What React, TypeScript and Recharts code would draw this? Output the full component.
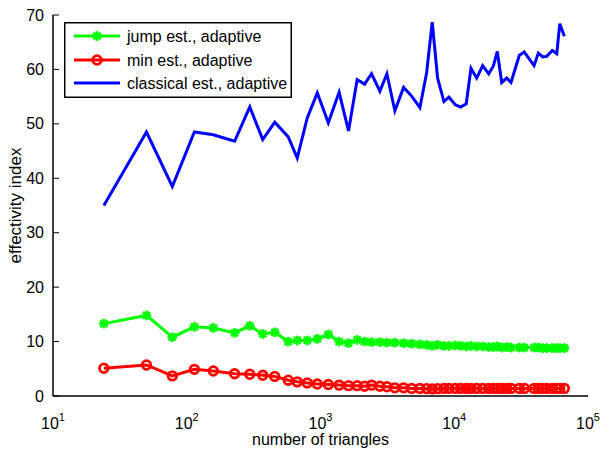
import React from 'react';
import { LineChart, Line, XAxis, YAxis, Legend } from 'recharts';

const triangles = [24, 50, 78, 114, 158, 228, 296, 370, 455, 574, 670, 796, 946, 1144, 1378, 1620, 1879, 2135, 2408, 2779, 3136, 3598, 4182, 4800, 5538, 6216, 6844, 7510, 8373, 9127, 10174, 11167, 12296, 13335, 14716, 16318, 18093, 19583, 20986, 22637, 24674, 26572, 30663, 33420, 39502, 42534, 45873, 49138, 54126, 58408, 61504, 66573];

const jumpEst = [13.3, 14.8, 10.8, 12.7, 12.5, 11.6, 12.9, 11.4, 11.7, 10.0, 10.2, 10.2, 10.5, 11.3, 10.0, 9.7, 10.3, 10.0, 9.9, 9.9, 9.8, 9.8, 9.7, 9.6, 9.5, 9.4, 9.2, 9.4, 9.2, 9.2, 9.3, 9.2, 9.1, 9.2, 9.1, 9.1, 9.0, 9.0, 9.1, 8.9, 9.0, 8.9, 8.9, 8.9, 8.9, 8.9, 8.8, 8.8, 8.8, 8.8, 8.8, 8.8];

const minEst = [5.1, 5.7, 3.7, 4.9, 4.6, 4.1, 4.0, 3.8, 3.6, 2.9, 2.6, 2.4, 2.2, 2.1, 2.0, 1.9, 1.9, 1.8, 2.0, 1.8, 1.7, 1.5, 1.5, 1.4, 1.4, 1.35, 1.3, 1.35, 1.4, 1.4, 1.4, 1.4, 1.4, 1.4, 1.4, 1.4, 1.4, 1.4, 1.4, 1.4, 1.4, 1.4, 1.4, 1.4, 1.4, 1.4, 1.4, 1.4, 1.4, 1.4, 1.4, 1.4];

const classicalEst = [35.0, 48.5, 38.5, 48.5, 48.0, 46.8, 53.1, 47.1, 50.3, 47.6, 43.7, 51.1, 55.7, 50.2, 55.8, 48.7, 58.1, 57.3, 59.2, 56.0, 59.2, 52.4, 56.7, 55.1, 53.0, 59.4, 68.7, 58.4, 54.1, 54.9, 53.5, 53.1, 53.7, 60.2, 58.4, 60.7, 59.2, 60.6, 63.3, 57.6, 58.4, 57.6, 62.6, 63.2, 60.7, 63.0, 62.3, 62.4, 63.5, 62.9, 68.4, 66.1];

const seriesNames = ['jump est., adaptive', 'min est., adaptive', 'classical est., adaptive'];
const seriesColors = ['#00ff00', '#ff0000', '#0000ff'];

const yTicks = [0, 10, 20, 30, 40, 50, 60, 70];
const xMajorTicks = [10, 100, 1000, 10000, 100000];
const xMinorTicks = [10, 100, 1000, 10000].flatMap((d) => [2, 3, 4, 5, 6, 7, 8, 9].map((k) => k * d));
const xAllTicks = [...xMajorTicks, ...xMinorTicks].sort((a, b) => a - b);

const xLabel = 'number of triangles';
const yLabel = 'effectivity index';

const data = triangles.map((n, i) => ({
  n,
  jump: jumpEst[i],
  min: minEst[i],
  classical: classicalEst[i],
}));

const W = 602;
const H = 450;
const M_TOP = 15;
const M_RIGHT = 14;
const Y_W = 53;
const X_H = 54;
const PLOT_H = H - M_TOP - X_H;
const FONT = '"Liberation Sans", Arial, Helvetica, sans-serif';

const isMajor = (v: number) => Math.abs(Math.log10(v) - Math.round(Math.log10(v))) < 1e-9;

const BottomTick = (props: any) => {
  const { x, y, payload } = props;
  const exp = Math.round(Math.log10(payload.value));
  return (
    <text x={x} y={y + 33} textAnchor="middle" fontSize={16} fontFamily={FONT} fill="#000">
      10
      <tspan dy={-8} fontSize={11}>{exp}</tspan>
    </text>
  );
};

const TopTick = (props: any) => {
  const { x, y, payload } = props;
  const len = isMajor(payload.value) ? 6 : 4;
  return (
    <g stroke="#000" strokeWidth={1}>
      <line x1={x} y1={y} x2={x} y2={y + len} />
      <line x1={x} y1={y + PLOT_H} x2={x} y2={y + PLOT_H - len} />
    </g>
  );
};

const LeftTick = (props: any) => {
  const { x, y, payload } = props;
  return (
    <g>
      <line x1={x} y1={y} x2={x + 6} y2={y} stroke="#000" strokeWidth={1} />
      <text x={x - 9} y={y + 5.5} textAnchor="end" fontSize={16} fontFamily={FONT} fill="#000">
        {payload.value}
      </text>
    </g>
  );
};

const RightTick = (props: any) => {
  const { x, y } = props;
  return <line x1={x} y1={y} x2={x - 6} y2={y} stroke="#000" strokeWidth={1} />;
};

const StarDot = (props: any) => {
  const { cx, cy, index } = props;
  if (cx == null || cy == null) return <g key={`s-${index}`} />;
  const s = 4.8;
  const d = 3.5;
  return (
    <g key={`s-${index}`} stroke="#00ff00" strokeWidth={2.5}>
      <line x1={cx - s} y1={cy} x2={cx + s} y2={cy} />
      <line x1={cx} y1={cy - s} x2={cx} y2={cy + s} />
      <line x1={cx - d} y1={cy - d} x2={cx + d} y2={cy + d} />
      <line x1={cx - d} y1={cy + d} x2={cx + d} y2={cy - d} />
    </g>
  );
};

const CircleDot = (props: any) => {
  const { cx, cy, index } = props;
  if (cx == null || cy == null) return <g key={`c-${index}`} />;
  return <circle key={`c-${index}`} cx={cx} cy={cy} r={4.3} fill="none" stroke="#ff0000" strokeWidth={2.8} />;
};

const LegendBox = () => {
  const rows = [14, 38, 61];
  return (
    <svg width={228} height={76} style={{ display: 'block' }}>
      <rect x={0.75} y={0.75} width={226.5} height={74.5} fill="#fff" stroke="#000" strokeWidth={1.5} />
      {seriesNames.map((name, i) => {
        const cy = rows[i];
        return (
          <g key={name}>
            <line x1={10} y1={cy} x2={56} y2={cy} stroke={seriesColors[i]} strokeWidth={3} />
            {i === 0 && <StarDot cx={33} cy={cy} index={'leg'} />}
            {i === 1 && <CircleDot cx={33} cy={cy} index={'leg'} />}
            <text x={63} y={cy + 5.5} fontSize={16} fontFamily={FONT} fill="#000">
              {name}
            </text>
          </g>
        );
      })}
    </svg>
  );
};

const YLabel = (props: any) => {
  const { viewBox } = props;
  const cx = viewBox.x + 21;
  const cy = viewBox.y + viewBox.height / 2;
  return (
    <text
      x={cx}
      y={cy}
      transform={`rotate(-90, ${cx}, ${cy})`}
      textAnchor="middle"
      fontSize={17}
      fontFamily={FONT}
      fill="#000"
    >
      {yLabel}
    </text>
  );
};

const XLabel = (props: any) => {
  const { viewBox } = props;
  const cx = viewBox.x + viewBox.width / 2;
  const cy = viewBox.y + 49;
  return (
    <text x={cx} y={cy} textAnchor="middle" fontSize={16} fontFamily={FONT} fill="#000">
      {xLabel}
    </text>
  );
};

export default function App() {
  return (
    <div style={{ position: 'absolute', left: 0, top: 0, width: W, height: H, background: '#fff' }}>
      <LineChart width={W} height={H} data={data} margin={{ top: M_TOP, right: M_RIGHT, left: 0, bottom: 0 }}>
        <XAxis
          xAxisId="main"
          dataKey="n"
          type="number"
          scale="log"
          domain={[10, 100000]}
          allowDataOverflow
          ticks={xMajorTicks}
          interval={0}
          height={X_H}
          tickSize={0}
          tickMargin={0}
          tickLine={false}
          axisLine={{ stroke: '#000', strokeWidth: 1.5 }}
          tick={<BottomTick />}
          label={<XLabel />}
        />
        <XAxis
          xAxisId="top"
          orientation="top"
          type="number"
          scale="log"
          domain={[10, 100000]}
          allowDataOverflow
          ticks={xAllTicks}
          interval={0}
          height={0}
          tickSize={0}
          tickMargin={0}
          tickLine={false}
          axisLine={{ stroke: '#000', strokeWidth: 1.5 }}
          tick={<TopTick />}
        />
        <YAxis
          yAxisId="left"
          type="number"
          domain={[0, 70]}
          ticks={yTicks}
          interval={0}
          width={Y_W}
          tickSize={0}
          tickMargin={0}
          tickLine={false}
          axisLine={{ stroke: '#000', strokeWidth: 1.5 }}
          tick={<LeftTick />}
          label={<YLabel />}
        />
        <YAxis
          yAxisId="right"
          orientation="right"
          type="number"
          domain={[0, 70]}
          ticks={yTicks}
          interval={0}
          width={0}
          tickSize={0}
          tickMargin={0}
          tickLine={false}
          axisLine={{ stroke: '#000', strokeWidth: 1.5 }}
          tick={<RightTick />}
        />
        <Legend
          layout="vertical"
          align="center"
          verticalAlign="middle"
          content={() => <LegendBox />}
          wrapperStyle={{ position: 'absolute', left: 64, top: 22, width: 228, height: 76 }}
        />
        <Line
          xAxisId="main"
          yAxisId="left"
          type="linear"
          dataKey="jump"
          name={seriesNames[0]}
          stroke={seriesColors[0]}
          strokeWidth={3}
          dot={StarDot}
          activeDot={false}
          isAnimationActive={false}
        />
        <Line
          xAxisId="main"
          yAxisId="left"
          type="linear"
          dataKey="min"
          name={seriesNames[1]}
          stroke={seriesColors[1]}
          strokeWidth={3}
          dot={CircleDot}
          activeDot={false}
          isAnimationActive={false}
        />
        <Line
          xAxisId="main"
          yAxisId="left"
          type="linear"
          dataKey="classical"
          name={seriesNames[2]}
          stroke={seriesColors[2]}
          strokeWidth={3}
          dot={false}
          activeDot={false}
          isAnimationActive={false}
        />
      </LineChart>
    </div>
  );
}
